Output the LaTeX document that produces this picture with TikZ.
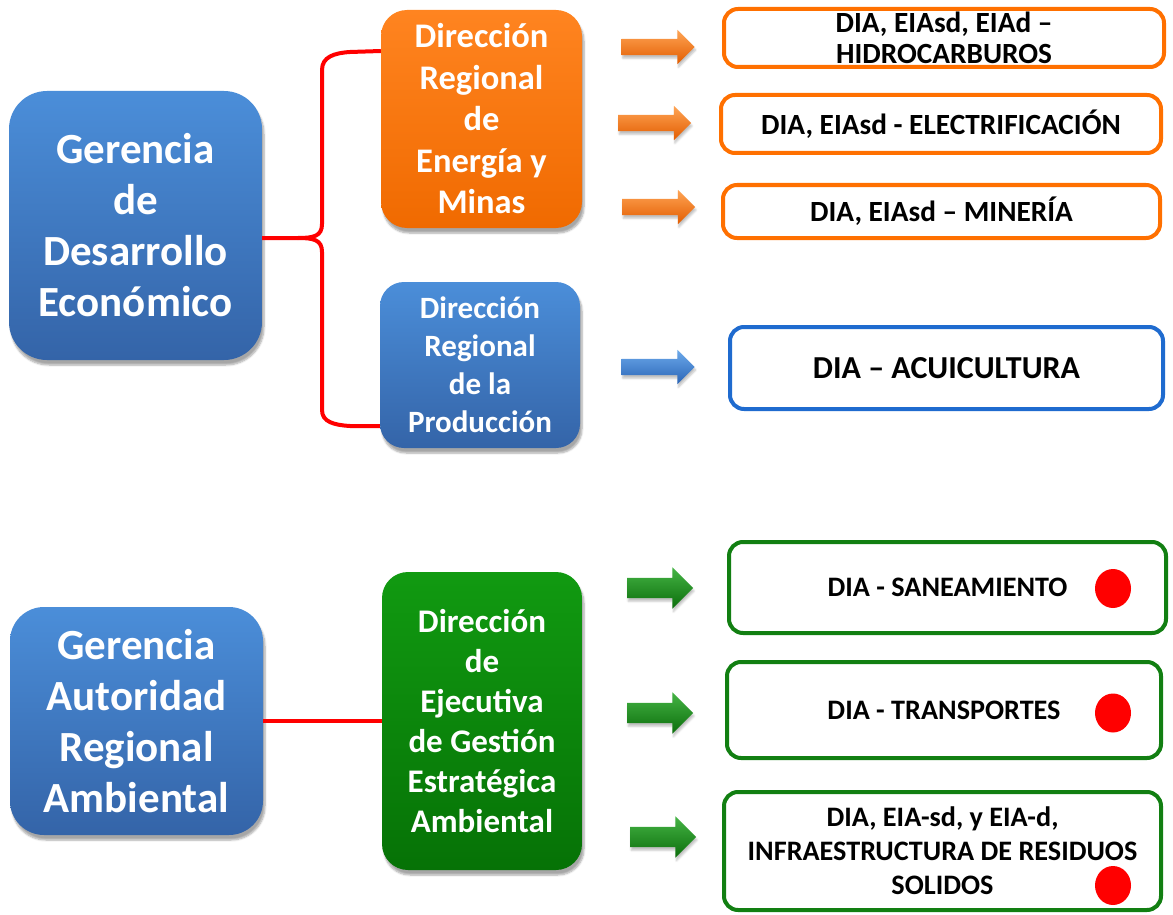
\documentclass[tikz,border=0pt]{standalone}
\usepackage{fontspec}
\setmainfont{Carlito}
\usetikzlibrary{shapes.arrows,shapes.geometric,shadows.blur}
\definecolor{blueT}{HTML}{4B8ED9}
\definecolor{blueB}{HTML}{3464A8}
\definecolor{orT}{HTML}{FF8420}
\definecolor{orB}{HTML}{F06A00}
\definecolor{grT}{HTML}{119A11}
\definecolor{grB}{HTML}{067206}
\definecolor{orLine}{HTML}{FF7000}
\definecolor{blLine}{HTML}{1F6BCF}
\definecolor{grLine}{HTML}{127F12}
\definecolor{oaT}{HTML}{FFA555}
\definecolor{oaB}{HTML}{E25C00}
\definecolor{gaT}{HTML}{45B445}
\definecolor{gaB}{HTML}{0C6E0C}
\definecolor{baT}{HTML}{6CAAEB}
\definecolor{baB}{HTML}{2A64B6}
\begin{document}
\begin{tikzpicture}[x=1pt,y=-1pt,
  solidbox/.style={draw=none, text=white, align=center, inner sep=0pt,
    blur shadow={shadow xshift=2pt, shadow yshift=-5pt, shadow opacity=35, shadow blur steps=6}},
  bluebox/.style={solidbox, top color=blueT, bottom color=blueB},
  orbox/.style={solidbox, top color=orT, bottom color=orB},
  grbox/.style={solidbox, top color=grT, bottom color=grB},
  outbox/.style={line width=4pt, rounded corners=14pt, fill=white, align=center, inner sep=0pt,
    font=\bfseries\fontsize{29.3}{33}\selectfont},
  arrowbase/.style={single arrow, single arrow head extend=9pt, inner xsep=0pt, inner ysep=8pt,
    minimum height=73pt, draw=none,
    blur shadow={shadow xshift=1pt, shadow yshift=-3pt, shadow opacity=25, shadow blur steps=4}},
  oarrow/.style={arrowbase, top color=oaT, bottom color=oaB},
  barrow/.style={arrowbase, top color=baT, bottom color=baB},
  garrow/.style={arrowbase, inner ysep=10pt, single arrow head extend=10.5pt, minimum height=66pt,
    top color=gaT, bottom color=gaB},
  reddot/.style={ellipse, fill=red, draw=none, minimum width=36pt, minimum height=39pt, inner sep=0pt},
  redline/.style={draw=red, line width=4pt}
]
\useasboundingbox (0,0) rectangle (1173,915);

% left boxes
\node[bluebox, rounded corners=38pt, minimum width=253pt, minimum height=269pt,
  font=\bfseries\fontsize{43}{51}\selectfont] (gde) at (135.5,225.5)
  {Gerencia\\de\\Desarrollo\\Económico};
\node[bluebox, rounded corners=34pt, minimum width=253pt, minimum height=228pt,
  font=\bfseries\fontsize{43}{51}\selectfont] (gara) at (136.5,721)
  {Gerencia\\Autoridad\\Regional\\Ambiental};

% middle boxes
\node[orbox, rounded corners=26pt, minimum width=201pt, minimum height=218pt,
  font=\bfseries\fontsize{34.5}{41.5}\selectfont] (drem) at (481.5,119)
  {Dirección\\Regional\\de\\Energía y\\Minas};
\node[bluebox, rounded corners=24pt, minimum width=200pt, minimum height=166pt,
  font=\bfseries\fontsize{31}{38}\selectfont] (drp) at (480,365)
  {Dirección\\Regional\\de la\\Producción};
\node[grbox, rounded corners=26pt, minimum width=200pt, minimum height=298pt,
  font=\bfseries\fontsize{33}{40}\selectfont] (degea) at (482,721)
  {Dirección\\de\\Ejecutiva\\de Gestión\\Estratégica\\Ambiental};

% connectors
\draw[redline] (gde.east |- 0,238) -- (298,238)
  .. controls (314,238) and (322,236) .. (322,224) -- (322,70)
  .. controls (322,57) and (334,53) .. (350,52) -- (drem.west |- 0,51);
\draw[redline] (298,238)
  .. controls (314,238) and (322,240) .. (322,252) -- (322,410)
  .. controls (322,422) and (334,425) .. (350,426) -- (drp.west |- 0,426);
\draw[redline] (gara.east) -- (degea.west);

% arrows
\node[oarrow] (oa1) at (654,47) {};
\node[oarrow] (oa2) at (650.5,123) {};
\node[oarrow] (oa3) at (654.5,207) {};
\node[barrow] (ba1) at (654,367) {};
\node[garrow] (ga1) at (655,588) {};
\node[garrow] (ga2) at (655,713) {};
\node[garrow] (ga3) at (658,837) {};

% right boxes
\node[outbox, draw=orLine, minimum width=440pt, minimum height=58pt] (r1) at (944,38)
  {DIA, EIAsd, EIAd –\\[-2pt]HIDROCARBUROS};
\node[outbox, draw=orLine, minimum width=440pt, minimum height=58pt] (r2) at (941,124)
  {DIA, EIAsd - ELECTRIFICACIÓN};
\node[outbox, draw=orLine, minimum width=437pt, minimum height=53pt] (r3) at (941.5,211.5)
  {DIA, EIAsd – MINERÍA};
\node[outbox, draw=blLine, minimum width=433pt, minimum height=82pt,
  font=\bfseries\fontsize{32}{36}\selectfont] (r4) at (946.5,368)
  {DIA – ACUICULTURA};
\node[outbox, draw=grLine, minimum width=437pt, minimum height=91pt,
  font=\bfseries\fontsize{28.2}{34}\selectfont] (r5) at (947.5,587.5)
  {DIA - SANEAMIENTO};
\node[outbox, draw=grLine, minimum width=434pt, minimum height=96pt,
  font=\bfseries\fontsize{28.2}{34}\selectfont] (r6) at (944,710)
  {DIA - TRANSPORTES};
\node[outbox, draw=grLine, minimum width=437pt, minimum height=118pt,
  font=\bfseries\fontsize{28.2}{34}\selectfont] (r7) at (942.5,851)
  {DIA, EIA-sd, y EIA-d,\\INFRAESTRUCTURA DE RESIDUOS\\SOLIDOS};

% red dots
\node[reddot] (d1) at (1113,588.5) {};
\node[reddot] (d2) at (1113,713) {};
\node[reddot] (d3) at (1113,885.5) {};
\end{tikzpicture}
\end{document}
